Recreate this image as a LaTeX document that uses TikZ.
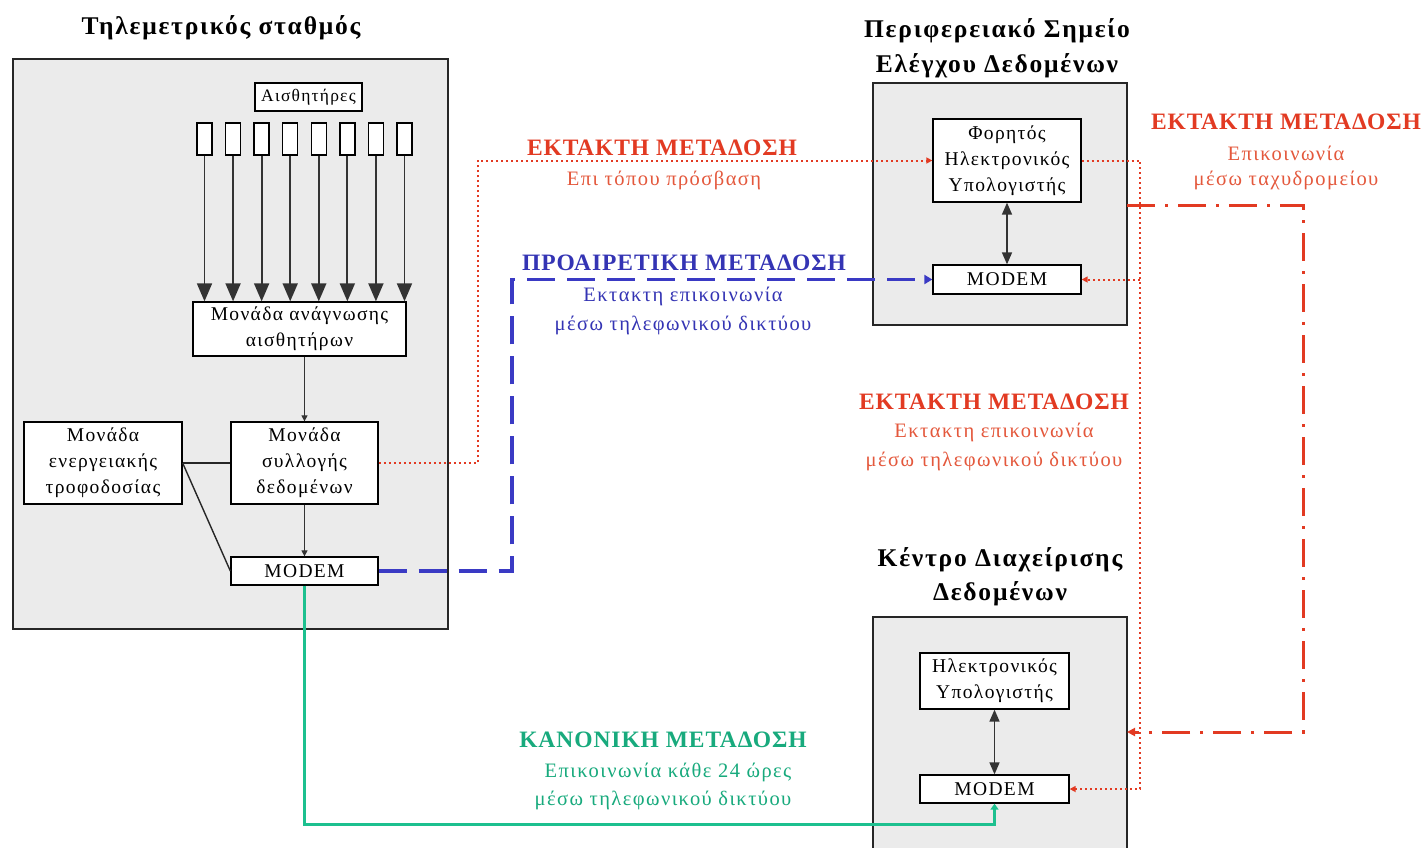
\documentclass[tikz,border=0pt]{standalone}
\usepackage{fontspec}
\setmainfont{Liberation Serif}
\newfontfamily\spacedserif[LetterSpace=7]{Liberation Serif}
\newfontfamily\wideserif[LetterSpace=4]{Liberation Serif}
\usetikzlibrary{arrows.meta}

\definecolor{panelgray}{HTML}{EBEBEB}
\definecolor{urgentred}{HTML}{E23A22}
\definecolor{urgentsub}{HTML}{E4583C}
\definecolor{optblue}{HTML}{3434B4}
\definecolor{optline}{HTML}{3A3AC4}
\definecolor{normgreen}{HTML}{1DC08F}
\definecolor{normtext}{HTML}{18AA7D}

\newcommand{\unitfont}{\spacedserif\fontsize{19.5}{26}\selectfont}
\newcommand{\smallunitfont}{\spacedserif\fontsize{17.5}{24}\selectfont}
\newcommand{\headfont}{\spacedserif\bfseries\fontsize{25.5}{35}\selectfont}
\newcommand{\linkhead}{\wideserif\bfseries\fontsize{23.5}{30}\selectfont}
\newcommand{\linksub}{\spacedserif\fontsize{20.5}{28}\selectfont}

\begin{document}
\begin{tikzpicture}[x=1pt,y=-1pt,
  panel/.style={draw=black!85,line width=1.6pt,fill=panelgray},
  unit/.style={draw=black,line width=1.3pt,fill=white,inner sep=0pt,
               align=center,font=\unitfont},
  sensor/.style={draw=black,line width=1.3pt,fill=white,inner sep=0pt,
                 minimum width=15pt,minimum height=32pt},
  heading/.style={font=\headfont,inner sep=0pt},
  feed/.style={draw=black!80,line width=1.8pt,
               -{Triangle[width=15pt,length=18pt]}},
  thinarrow/.style={draw=black!80,line width=1.2pt,
               -{Triangle[width=6pt,length=6pt]}},
  twoway/.style={draw=black!80,line width=1.6pt,
               {Triangle[width=10pt,length=12pt]}-{Triangle[width=10pt,length=12pt]}},
  wire/.style={draw=black!85,line width=1.4pt},
  urgentpath/.style={draw=urgentred,line width=2pt,
               dash pattern=on 2pt off 3pt,
               -{Triangle[width=6pt,length=6pt]}},
  postpath/.style={draw=urgentred,line width=3pt,
               dash pattern=on 28pt off 10pt on 3pt off 10pt,
               -{Triangle[width=8pt,length=8pt]}},
  optpath/.style={draw=optline,line width=3.5pt,
               dash pattern=on 28pt off 12pt,
               -{Triangle[width=9pt,length=8pt]}},
  normpath/.style={draw=normgreen,line width=3pt,
               -{Triangle[width=8pt,length=6pt]}},
  lhead/.style={font=\linkhead,inner sep=0pt},
  lsub/.style={font=\linksub,inner sep=0pt}
]
\useasboundingbox (0,0) rectangle (1426,847);
\clip (0,0) rectangle (1426,847);
\fill[white] (0,0) rectangle (1426,847);

% ---------- telemetry station ----------
\node[heading] (stTitle) at (221,28) {Τηλεμετρικός σταθμός};
\draw[panel] (13,59) rectangle (448,629);

\node[unit,font=\smallunitfont,minimum width=107pt,minimum height=28pt] (sensLbl)
  at (308.5,97) {Αισθητήρες};
\foreach \i in {1,...,8} {
  \node[sensor] (s\i) at ({204.5+28.57*(\i-1)},139) {};
}
\node[unit,minimum width=213pt,minimum height=54pt] (reader) at (299.5,329)
  {Μονάδα ανάγνωσης\\αισθητήρων};
\foreach \i in {1,...,8} {
  \draw[feed] (s\i.south) -- (s\i.south |- reader.north);
}
\node[unit,minimum width=147pt,minimum height=82pt] (collect) at (304.5,463)
  {Μονάδα\\συλλογής\\δεδομένων};
\node[unit,minimum width=158pt,minimum height=82pt] (power) at (103,463)
  {Μονάδα\\ενεργειακής\\τροφοδοσίας};
\node[unit,minimum width=147pt,minimum height=28pt] (modemL) at (304.5,571) {MODEM};

\draw[thinarrow] (reader.south -| collect.north) -- (collect.north);
\draw[thinarrow] (collect.south) -- (modemL.north);
\draw[wire] (power.east) -- (collect.west);
\draw[wire] (power.east) -- (modemL.west);

% ---------- regional control point ----------
\node[heading] (rcTitleA) at (997,31) {Περιφερειακό Σημείο};
\node[heading] (rcTitleB) at (997,66) {Ελέγχου Δεδομένων};
\draw[panel] (873,83) rectangle (1127,325);
\node[unit,minimum width=148pt,minimum height=83pt] (laptop) at (1007,160.5)
  {Φορητός\\Ηλεκτρονικός\\Υπολογιστής};
\node[unit,minimum width=148pt,minimum height=29pt] (modemP) at (1007,279.5) {MODEM};
\draw[twoway] (laptop.south) -- (modemP.north);

% ---------- data management centre ----------
\node[heading] (dcTitleA) at (1000,560) {Κέντρο Διαχείρισης};
\node[heading] (dcTitleB) at (1000,594) {Δεδομένων};
\draw[panel] (873,617) rectangle (1127,870);
\node[unit,minimum width=149pt,minimum height=56pt] (pc) at (994.5,681)
  {Ηλεκτρονικός\\Υπολογιστής};
\node[unit,minimum width=149pt,minimum height=28pt] (modemC) at (994.5,789) {MODEM};
\draw[twoway] (pc.south) -- (modemC.north);

% ---------- links ----------
% on-site access
\coordinate (onA) at (478,463);
\coordinate (onB) at (478,160.5);
\draw[urgentpath] (collect.east) -- (onA) -- (onB) -- (laptop.west);
% laptop to both modems
\coordinate (dropA) at (1140,160.5);
\coordinate (dropB) at (1140,789);
\coordinate (dropT) at (1140,279.5);
\draw[urgentpath] (laptop.east) -- (dropA) -- (dropB) -- (modemC.east);
\draw[urgentpath] (dropT) -- (modemP.east);
% by post
\coordinate (postA) at (1127,205);
\coordinate (postB) at (1303,205);
\coordinate (postC) at (1303,732);
\coordinate (postD) at (1127,732);
\draw[postpath] (postA) -- (postB) -- (postC) -- (postD);
% optional dial-up
\coordinate (optA) at (512,571);
\coordinate (optB) at (512,279.5);
\draw[optpath] (modemL.east) -- (optA) -- (optB) -- (modemP.west);
% daily transfer
\coordinate (normA) at (304.5,824);
\coordinate (normB) at (994.5,824);
\draw[normpath] (modemL.south) -- (normA) -- (normB) -- (modemC.south);

% ---------- link labels ----------
\node[lhead,text=urgentred] (onHead) at (662,148) {ΕΚΤΑΚΤΗ ΜΕΤΑΔΟΣΗ};
\node[lsub,text=urgentsub] (onSub) at (664,180) {Επι τόπου πρόσβαση};

\node[lhead,text=optblue] (optHead) at (684,263) {ΠΡΟΑΙΡΕΤΙΚΗ ΜΕΤΑΔΟΣΗ};
\node[lsub,text=optblue] (optSubA) at (683,296) {Εκτακτη επικοινωνία};
\node[lsub,text=optblue] (optSubB) at (683,325) {μέσω τηλεφωνικού δικτύου};

\node[lhead,text=urgentred] (postHead) at (1286,122) {ΕΚΤΑΚΤΗ ΜΕΤΑΔΟΣΗ};
\node[lsub,text=urgentsub] (postSubA) at (1286,153) {Επικοινωνία};
\node[lsub,text=urgentsub] (postSubB) at (1286,180) {μέσω ταχυδρομείου};

\node[lhead,text=urgentred] (dialHead) at (994,402) {ΕΚΤΑΚΤΗ ΜΕΤΑΔΟΣΗ};
\node[lsub,text=urgentsub] (dialSubA) at (994,432) {Εκτακτη επικοινωνία};
\node[lsub,text=urgentsub] (dialSubB) at (994,461) {μέσω τηλεφωνικού δικτύου};

\node[lhead,text=normtext] (normHead) at (663,740) {ΚΑΝΟΝΙΚΗ ΜΕΤΑΔΟΣΗ};
\node[lsub,text=normtext] (normSubA) at (668,772) {Επικοινωνία κάθε 24 ώρες};
\node[lsub,text=normtext] (normSubB) at (663,800) {μέσω τηλεφωνικού δικτύου};
\end{tikzpicture}
\end{document}
